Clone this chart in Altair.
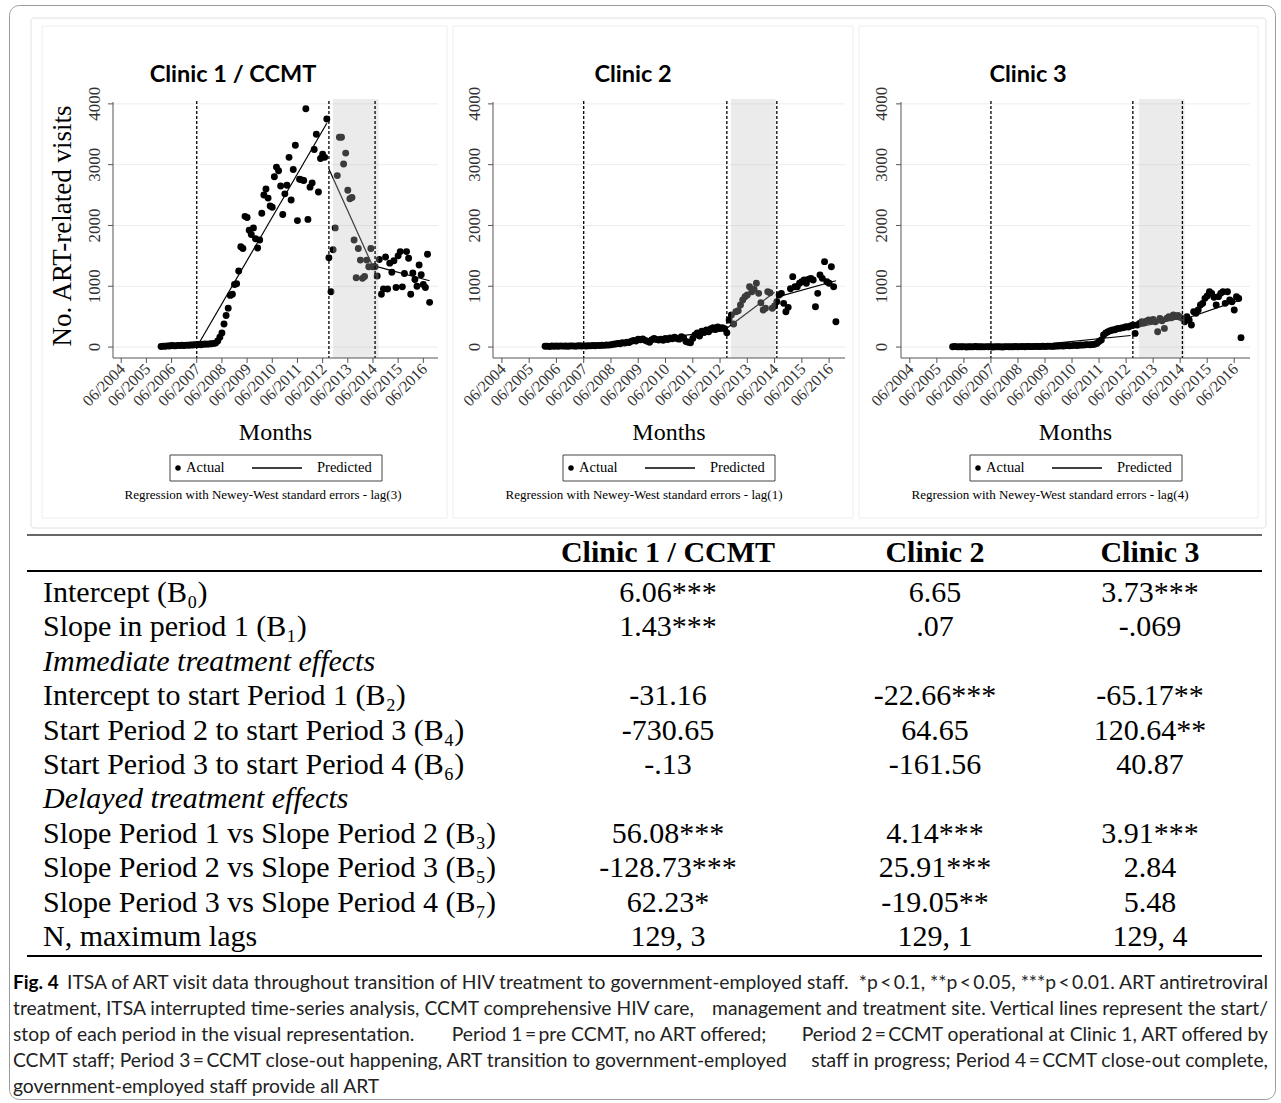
import altair as alt
import pandas as pd

# ---------------- data ----------------
# monthly ART-related visits, Jan 2006 .. Sep 2016 (129 months)
clinic1 = [
    10, 15, 12, 20, 18, 25, 22, 20, 28, 25, 30, 27, 32, 30, 35, 33, 38,
    40, 42, 38, 45, 50, 48, 52, 55, 60, 65, 100, 160,
    230, 380, 520, 640, 850, 870, 1030, 1040, 1250, 1650, 1620, 2150, 2130, 1920,
    1850, 1960, 1780, 1630, 1760, 2200, 2500, 2600, 2450, 2320, 2300, 2800, 2960,
    2900, 2650, 2180, 2520, 2660, 3120, 2420, 2920, 3320, 2080, 2760, 2750, 2740,
    3920, 2100, 2630, 2700, 3250, 3500, 2550, 3100, 3170, 3120, 3750,
    1470, 910, 1600, 1960, 2820, 3450, 3450, 3010, 3190, 2580, 2440, 2460, 1760,
    1140, 1620, 1430, 1130, 1160, 1430, 1320, 1620, 1320, 1320, 1170, 1440, 870,
    955, 1480, 955, 1380, 1230, 1420, 980, 1500, 1570, 990, 1210, 1570, 1460, 870,
    1220, 1110, 1000, 1350, 1190, 1030, 980, 1525, 735,
]
clinic2 = [
    12, 15, 10, 18, 14, 16, 12, 20, 15, 18, 14, 16, 20, 15, 18, 22, 17, 20,
    18, 22, 20, 25, 22, 28, 25, 30, 28, 35, 32, 38,
    45, 50, 60, 55, 70, 65, 80, 75, 95, 110, 100, 130,
    120, 135, 110, 95, 80, 120, 140, 125, 115, 130, 110, 140,
    125, 150, 135, 160, 140, 130, 170, 150, 90, 80, 70, 140,
    200, 230, 180, 260, 240, 280, 250, 300, 320, 290, 330, 310, 320, 300,
    236, 444, 527, 379, 582, 598, 691, 774, 829, 856, 993, 911, 949, 1048, 883,
    730, 609, 637, 911, 894, 637, 675,
    746, 856, 883, 719, 582, 653, 960, 1158, 993, 993, 1048, 1075, 1103, 1048,
    1114, 1130, 1103, 664, 883, 1185, 1130, 1405, 1075, 1048, 1322, 993, 417,
]
clinic3 = [
    5, 8, 3, 6, 4, 7, 2, 5, 6, 3, 8, 4, 6, 5, 3, 7, 4, 6,
    3, 5, 4, 6, 2, 5, 7, 4, 6, 5, 8, 6, 7, 9, 6, 8, 10, 7, 9, 11, 8, 10, 12, 9,
    12, 15, 11, 14, 18, 16, 20, 18, 22, 25, 20, 24, 28, 25, 30, 35, 32, 38, 40,
    36, 42, 45,
    60, 90, 115, 198, 230, 252, 270, 280, 285, 300, 307, 315, 320, 335, 330, 345,
    362, 225, 362, 390, 417, 400, 425, 445, 430, 455, 417, 252, 472, 434, 307,
    472, 500, 480, 527, 500, 520, 490,
    472, 417, 500, 445, 362, 582, 554, 609, 691, 719, 801, 840, 911, 883, 818,
    691, 829, 883, 911, 719, 911, 774, 746, 609, 829, 800, 155,
]
# predicted segments: (start month index, start value, end month index, end value)
pred1 = [(0, 6, 17, 30), (17, 0, 79, 3680), (80, 2930, 101, 1320), (102, 1330, 128, 1090)]
pred2 = [(0, 7, 17, 8), (17, 0, 79, 270), (80, 310, 101, 900), (102, 820, 128, 1090)]
pred3 = [(0, 4, 17, 2), (17, -45, 79, 190), (80, 310, 101, 470), (102, 450, 128, 780)]
# period boundaries (month index) and shaded close-out window (decimal years)
breaks = [17, 80, 102]
shade1 = [2012.83, 2014.64]
shade2 = [2012.82, 2014.46]
shade3 = [2012.90, 2014.58]
titles = ["Clinic 1 / CCMT", "Clinic 2", "Clinic 3"]
lags = ["lag(3)", "lag(1)", "lag(4)"]
y_ticks = [0, 1000, 2000, 3000, 4000]
x_tick_years = list(range(2004, 2017))

row_labels = [
    "Intercept (B\u2080)", "Slope in period 1 (B\u2081)", "Immediate treatment effects",
    "Intercept to start Period 1 (B\u2082)", "Start Period 2 to start Period 3 (B\u2084)",
    "Start Period 3 to start Period 4 (B\u2086)", "Delayed treatment effects",
    "Slope Period 1 vs Slope Period 2 (B\u2083)", "Slope Period 2 vs Slope Period 3 (B\u2085)",
    "Slope Period 3 vs Slope Period 4 (B\u2087)", "N, maximum lags",
]
italic_rows = [2, 6]
col1 = ["6.06***", "1.43***", "", "-31.16", "-730.65", "-.13", "", "56.08***", "-128.73***", "62.23*", "129, 3"]
col2 = ["6.65", ".07", "", "-22.66***", "64.65", "-161.56", "", "4.14***", "25.91***", "-19.05**", "129, 1"]
col3 = ["3.73***", "-.069", "", "-65.17**", "120.64**", "40.87", "", "3.91***", "2.84", "5.48", "129, 4"]
col_heads = ["Clinic 1 / CCMT", "Clinic 2", "Clinic 3"]

# caption: each justified line as (left part, middle part, right part)
caption_lines = [
    ("ITSA of ART visit data throughout transition of HIV treatment to government-employed staff.", "",
     "*p\u2009<\u20090.1, **p\u2009<\u20090.05, ***p\u2009<\u20090.01. ART antiretroviral"),
    ("treatment, ITSA interrupted time-series analysis, CCMT comprehensive HIV care,", "",
     "management and treatment site. Vertical lines represent the start/"),
    ("stop of each period in the visual representation.",
     "Period 1\u2009=\u2009pre CCMT, no ART offered;",
     "Period 2\u2009=\u2009CCMT operational at Clinic 1, ART offered by"),
    ("CCMT staff; Period 3\u2009=\u2009CCMT close-out happening, ART transition to government-employed", "",
     "staff in progress; Period 4\u2009=\u2009CCMT close-out complete,"),
    ("government-employed staff provide all ART", "", ""),
]

# ---------------- layout ----------------
OX, OY = 9, 5
W, H = 1266, 1094
def px(x):
    return x - OX
def py(y):
    return y - OY

SERIF = "Liberation Serif"
SANS = "Lato"
panels_x = [(113, 438), (493, 845), (901, 1250)]
title_cx = [233, 633, 1028]
ylab_x = [95, 475, 882]
legend_x0 = [170, 563, 970]
foot_cx = [263, 644, 1050]
Y_TOP, Y_BOT = 99, 358

layers = []

def one(s):
    return pd.DataFrame({"s": [s]})

def text_at(s, x, y, size, font=SERIF, weight="normal", style="normal", align="center", angle=0, color="black"):
    return alt.Chart(one(s)).mark_text(
        x=px(x), y=py(y), fontSize=size, font=font, fontWeight=weight, fontStyle=style,
        align=align, baseline="middle", angle=angle, color=color,
    ).encode(text="s:N")

def hline(x0, x1, y, color="black", width=1.0):
    return alt.Chart(one("")).mark_rule(color=color, strokeWidth=width).encode(
        x=alt.value(px(x0)), x2=alt.value(px(x1)), y=alt.value(py(y)))

def vline(x, y0, y1, color="black", width=1.0):
    return alt.Chart(one("")).mark_rule(color=color, strokeWidth=width).encode(
        x=alt.value(px(x)), y=alt.value(py(y0)), y2=alt.value(py(y1)))

def frame(x0, y0, x1, y1, color, width=1.0, radius=0):
    return alt.Chart(one("")).mark_rect(fillOpacity=0, strokeWidth=width, cornerRadius=radius).encode(
        x=alt.value(px(x0)), x2=alt.value(px(x1)), y=alt.value(py(y0)), y2=alt.value(py(y1)),
        stroke=alt.value(color))

# graph region boxes
layers.append(frame(31, 18, 1266, 528, "#e2e2e2", radius=3))
for (a, b) in [(42, 447), (453, 853), (859, 1258)]:
    layers.append(frame(a, 26, b, 518, "#eeeeee"))

series = [clinic1, clinic2, clinic3]
preds = [pred1, pred2, pred3]
shades = [shade1, shade2, shade3]

def month_pos(i):
    return 2006 + i / 12.0

for k in range(3):
    x0, x1 = panels_x[k]
    xs = alt.Scale(domain=[2004.09, 2017.0], range=[px(x0), px(x1)], nice=False, zero=False)
    ys = alt.Scale(domain=[-180, 4080], range=[py(Y_BOT), py(Y_TOP)], nice=False, zero=False)
    X = lambda f: alt.X(f, scale=xs, axis=None)
    Y = lambda f: alt.Y(f, scale=ys, axis=None)

    grid = pd.DataFrame({"v": y_ticks})
    layers.append(alt.Chart(grid).mark_rule(color="#ececec", strokeWidth=1).encode(
        y=Y("v:Q"), x=alt.value(px(x0)), x2=alt.value(px(x1))))

    pts = pd.DataFrame({"t": [month_pos(i) for i in range(len(series[k]))], "v": series[k]})
    layers.append(alt.Chart(pts).mark_circle(size=48, color="black", opacity=1).encode(
        x=X("t:Q"), y=Y("v:Q")))

    rows = []
    for s, (i0, v0, i1, v1) in enumerate(preds[k]):
        rows.append({"seg": s, "t": month_pos(i0), "v": v0})
        rows.append({"seg": s, "t": month_pos(i1), "v": v1})
    layers.append(alt.Chart(pd.DataFrame(rows)).mark_line(color="black", strokeWidth=1.2).encode(
        x=X("t:Q"), y=Y("v:Q"), detail="seg:N"))

    sh = pd.DataFrame({"a": [shades[k][0]], "b": [shades[k][1]]})
    layers.append(alt.Chart(sh).mark_rect(color="#bfbfbf", opacity=0.31).encode(
        x=X("a:Q"), x2="b:Q", y=alt.value(py(Y_TOP)), y2=alt.value(py(Y_BOT))))

    vl = pd.DataFrame({"t": [month_pos(i) for i in breaks]})
    layers.append(alt.Chart(vl).mark_rule(color="black", strokeWidth=1.3, strokeDash=[3, 2]).encode(
        x=X("t:Q"), y=alt.value(py(101)), y2=alt.value(py(Y_BOT))))

    # axes
    layers.append(vline(x0, 102, Y_BOT, color="#555555"))
    layers.append(hline(x0, x1, Y_BOT, color="#555555"))
    layers.append(alt.Chart(grid).mark_rule(color="#555555").encode(
        y=Y("v:Q"), x=alt.value(px(x0 - 5)), x2=alt.value(px(x0))))
    layers.append(alt.Chart(grid).mark_text(
        font=SERIF, fontSize=17, angle=270, align="center", baseline="middle", color="#333333").encode(
        y=Y("v:Q"), x=alt.value(px(ylab_x[k])), text="v:N"))

    xt = pd.DataFrame({"t": [yy + 5 / 12.0 for yy in x_tick_years],
                       "lab": ["06/%d" % yy for yy in x_tick_years]})
    layers.append(alt.Chart(xt).mark_rule(color="#555555").encode(
        x=X("t:Q"), y=alt.value(py(Y_BOT)), y2=alt.value(py(Y_BOT + 5))))
    layers.append(alt.Chart(xt).mark_text(
        font=SERIF, fontSize=16, angle=315, align="right", baseline="middle", dx=2, color="#333333").encode(
        x=X("t:Q"), y=alt.value(py(Y_BOT + 10)), text="lab:N"))

    # titles
    layers.append(text_at(titles[k], title_cx[k], 75, 23.5, font=SANS, weight="bold"))
    layers.append(text_at("Months", (x0 + x1) / 2, 433, 24))
    # legend
    lx = legend_x0[k]
    layers.append(frame(lx, 455, lx + 212, 481, "#444444"))
    layers.append(alt.Chart(one("")).mark_circle(size=30, color="black", opacity=1).encode(
        x=alt.value(px(lx + 8)), y=alt.value(py(468))))
    layers.append(text_at("Actual", lx + 16, 468, 14.5, align="left"))
    layers.append(hline(lx + 82, lx + 132, 468, width=1.6))
    layers.append(text_at("Predicted", lx + 147, 468, 14.5, align="left"))
    layers.append(text_at("Regression with Newey-West standard errors - " + lags[k], foot_cx[k], 495, 13))

layers.append(text_at("No. ART-related visits", 63, 226, 27, angle=270))

# ---------------- table ----------------
TBL_L, TBL_R = 27, 1262
layers.append(hline(TBL_L, TBL_R, 535, color="#333333", width=1.5))
layers.append(hline(TBL_L, TBL_R, 571, color="black", width=2))
layers.append(hline(TBL_L, TBL_R, 956, color="black", width=2))
col_cx = [668, 935, 1150]
for c in range(3):
    layers.append(text_at(col_heads[c], col_cx[c], 553, 30, weight="bold"))

row_scale = alt.Scale(domain=[0, 10], range=[py(593), py(937)], nice=False, zero=False)
lab_df = pd.DataFrame({"r": list(range(len(row_labels))), "s": row_labels})
lab_df["it"] = lab_df["r"].isin(italic_rows)
layers.append(alt.Chart(lab_df[~lab_df["it"]]).mark_text(
    font=SERIF, fontSize=30, align="left", baseline="middle", color="black").encode(
    y=alt.Y("r:Q", scale=row_scale, axis=None), x=alt.value(px(43)), text="s:N"))
layers.append(alt.Chart(lab_df[lab_df["it"]]).mark_text(
    font=SERIF, fontSize=30, fontStyle="italic", align="left", baseline="middle", color="black").encode(
    y=alt.Y("r:Q", scale=row_scale, axis=None), x=alt.value(px(43)), text="s:N"))
for c, col in enumerate([col1, col2, col3]):
    dfc = pd.DataFrame({"r": list(range(len(col))), "s": col})
    dfc = dfc[dfc["s"] != ""]
    layers.append(alt.Chart(dfc).mark_text(
        font=SERIF, fontSize=30, align="center", baseline="middle", color="black").encode(
        y=alt.Y("r:Q", scale=row_scale, axis=None), x=alt.value(px(col_cx[c])), text="s:N"))

# ---------------- caption ----------------
CAP = 19.3
cap_scale = alt.Scale(domain=[0, 4], range=[py(983), py(1087)], nice=False, zero=False)
layers.append(text_at("Fig. 4", 13, 983, 19, font=SANS, weight="bold", align="left"))
nl = len(caption_lines)
left_df = pd.DataFrame({"r": list(range(nl)), "s": [a for a, b, c in caption_lines]})
mid_df = pd.DataFrame({"r": list(range(nl)), "s": [b for a, b, c in caption_lines]})
mid_df = mid_df[mid_df["s"] != ""]
right_df = pd.DataFrame({"r": list(range(nl)), "s": [c for a, b, c in caption_lines]})
right_df = right_df[right_df["s"] != ""]
cap_mark = dict(font=SANS, fontSize=CAP, baseline="middle", color="#222222")
layers.append(alt.Chart(left_df[left_df["r"] == 0]).mark_text(align="left", **cap_mark).encode(
    y=alt.Y("r:Q", scale=cap_scale, axis=None), x=alt.value(px(67)), text="s:N"))
layers.append(alt.Chart(left_df[left_df["r"] > 0]).mark_text(align="left", **cap_mark).encode(
    y=alt.Y("r:Q", scale=cap_scale, axis=None), x=alt.value(px(13)), text="s:N"))
layers.append(alt.Chart(mid_df).mark_text(align="center", **cap_mark).encode(
    y=alt.Y("r:Q", scale=cap_scale, axis=None), x=alt.value(px(609)), text="s:N"))
layers.append(alt.Chart(right_df).mark_text(align="right", **cap_mark).encode(
    y=alt.Y("r:Q", scale=cap_scale, axis=None), x=alt.value(px(1268)), text="s:N"))

chart = alt.layer(*layers).resolve_scale(x="independent", y="independent").properties(
    width=W, height=H,
    padding={"left": OX, "top": OY, "right": 1281 - OX - W, "bottom": 1103 - OY - H},
    autosize=alt.AutoSizeParams(type="none"),
    background="white",
).configure_view(stroke="#9a9a9a", strokeWidth=1, cornerRadius=10)

chart.save("out.html", embed_options={"renderer": "svg", "actions": False})
